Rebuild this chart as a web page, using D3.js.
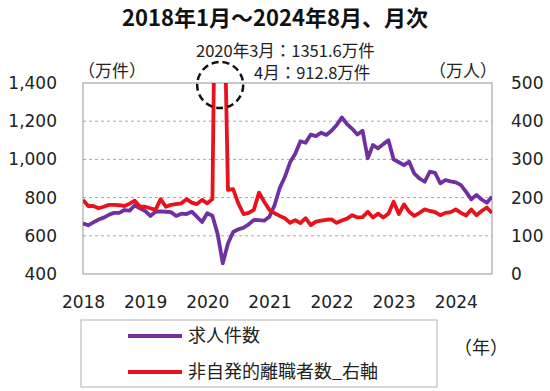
<!DOCTYPE html>
<html>
<head>
<meta charset="utf-8">
<script src="https://cdn.jsdelivr.net/npm/d3@7"></script>
<style>
  body { margin: 0; background: #fff; }
  text { font-family: "Noto Sans CJK JP", "DejaVu Sans", sans-serif; }
  .num { font-family: "DejaVu Sans", sans-serif; }
</style>
</head>
<body>
<div id="chart"></div>
<script>
// year labels on the x axis (one per January)
const years = ["2018", "2019", "2020", "2021", "2022", "2023", "2024"];

// 求人件数 (万件), monthly Jan 2018 - Aug 2024
const openings = [
  665, 655, 670, 685, 695, 710, 720, 720, 735, 732, 760, 744,
  730, 704, 726, 728, 726, 724, 704, 716, 714, 726, 700, 672,
  718, 705, 610, 456, 560, 620, 634, 642, 660, 683, 682, 679,
  700, 760, 850, 909, 985, 1030, 1095, 1087, 1130, 1122, 1140, 1128,
  1150, 1180, 1220, 1185, 1160, 1130, 1150, 1006, 1075, 1058, 1080, 1100,
  1000, 985, 970, 988, 925, 900, 883, 936, 930, 875, 892, 885,
  880, 865, 830, 791, 814, 790, 773, 805
];

// 非自発的離職者数 (万人, right axis)
const layoffs = [
  194, 178, 178, 172, 176, 181, 181, 180, 178, 184, 192, 176,
  176, 172, 168, 196, 176, 181, 183, 185, 196, 187, 183, 194,
  185, 196, 1351.6, 912.8, 220, 222, 185, 157, 160, 168, 213, 189,
  168, 159, 152, 146, 134, 141, 133, 146, 128, 137, 140, 142,
  143, 134, 140, 145, 154, 148, 149, 163, 148, 158, 148, 158,
  189, 157, 182, 163, 152, 160, 169, 165, 162, 154, 160, 162,
  169, 160, 153, 169, 154, 165, 174, 160
];

const leftTicks = [400, 600, 800, 1000, 1200, 1400];
const rightTicks = [0, 100, 200, 300, 400, 500];

const series = [
  { name: "求人件数", values: openings, axis: "left", color: "#7030a0" },
  { name: "非自発的離職者数_右軸", values: layoffs, axis: "right", color: "#e8121c" }
];

const width = 550;
const height = 391;
const plot = { left: 83, right: 492, top: 83, bottom: 274 };

const svg = d3.select("#chart")
  .append("svg")
  .attr("width", width)
  .attr("height", height);

const xScale = d3.scaleLinear()
  .domain([0, openings.length - 1])
  .range([plot.left, plot.right]);

const yLeft = d3.scaleLinear()
  .domain([400, 1400])
  .range([plot.bottom, plot.top]);

const yRight = d3.scaleLinear()
  .domain([0, 500])
  .range([plot.bottom, plot.top]);

// title
svg.append("text")
  .attr("x", width / 2)
  .attr("y", 26)
  .attr("text-anchor", "middle")
  .style("font-size", "22px")
  .style("font-weight", "bold")
  .attr("fill", "#111")
  .text("2018年1月～2024年8月、月次");

// dashed grid lines
svg.append("g")
  .selectAll("line")
  .data(leftTicks.slice(1, -1))
  .join("line")
    .attr("x1", plot.left)
    .attr("x2", plot.right)
    .attr("y1", d => yLeft(d))
    .attr("y2", d => yLeft(d))
    .attr("stroke", "#a6a6a6")
    .attr("stroke-width", 1)
    .attr("stroke-dasharray", "3,3");

// plot border
svg.append("rect")
  .attr("x", plot.left)
  .attr("y", plot.top)
  .attr("width", plot.right - plot.left)
  .attr("height", plot.bottom - plot.top)
  .attr("fill", "none")
  .attr("stroke", "#a6a6a6")
  .attr("stroke-width", 1.2);

// axes
const leftAxis = d3.axisLeft(yLeft)
  .tickValues(leftTicks)
  .tickFormat(d3.format(","))
  .tickSize(0)
  .tickPadding(26);

const rightAxis = d3.axisRight(yRight)
  .tickValues(rightTicks)
  .tickSize(0)
  .tickPadding(19);

const bottomAxis = d3.axisBottom(xScale)
  .tickValues(years.map((y, i) => i * 12))
  .tickFormat((d, i) => years[i])
  .tickSize(0)
  .tickPadding(22);

[
  svg.append("g").attr("transform", `translate(${plot.left},0)`).call(leftAxis),
  svg.append("g").attr("transform", `translate(${plot.right},0)`).call(rightAxis),
  svg.append("g").attr("transform", `translate(0,${plot.bottom})`).call(bottomAxis)
].forEach(g => {
  g.select(".domain").remove();
  g.selectAll("text")
    .attr("class", "num")
    .attr("fill", "#222")
    .style("font-size", "17px");
});

// unit labels
svg.append("text")
  .attr("x", 78)
  .attr("y", 77)
  .style("font-size", "17px")
  .attr("fill", "#222")
  .text("（万件）");

svg.append("text")
  .attr("x", 497)
  .attr("y", 77)
  .attr("text-anchor", "end")
  .style("font-size", "17px")
  .attr("fill", "#222")
  .text("（万人）");

// lines, clipped to plot area
svg.append("clipPath")
  .attr("id", "plot-clip")
  .append("rect")
    .attr("x", plot.left)
    .attr("y", plot.top)
    .attr("width", plot.right - plot.left)
    .attr("height", plot.bottom - plot.top);

const lineGroup = svg.append("g").attr("clip-path", "url(#plot-clip)");

series.forEach(s => {
  const yScale = s.axis === "left" ? yLeft : yRight;
  const lineGenerator = d3.line()
    .x((d, i) => xScale(i))
    .y(d => yScale(d));

  lineGroup.append("path")
    .datum(s.values)
    .attr("d", lineGenerator)
    .attr("fill", "none")
    .attr("stroke", s.color)
    .attr("stroke-width", 3.8)
    .attr("stroke-linejoin", "round");
});

// annotation for the 2020 spike
const spikeX = xScale(26.5);
svg.append("ellipse")
  .attr("cx", spikeX)
  .attr("cy", plot.top + 2)
  .attr("rx", 23)
  .attr("ry", 23)
  .attr("fill", "none")
  .attr("stroke", "#111")
  .attr("stroke-width", 2.5)
  .attr("stroke-dasharray", "7,4");

svg.append("text")
  .attr("x", 196)
  .attr("y", 57)
  .style("font-size", "16.5px")
  .attr("fill", "#222")
  .text(`2020年3月：${layoffs[26]}万件`);

svg.append("text")
  .attr("x", 254)
  .attr("y", 79)
  .style("font-size", "16.5px")
  .attr("fill", "#222")
  .text(`4月：${layoffs[27]}万件`);

// legend
svg.append("rect")
  .attr("x", 81)
  .attr("y", 320)
  .attr("width", 356)
  .attr("height", 67)
  .attr("fill", "#fff")
  .attr("stroke", "#b3b3b3")
  .attr("stroke-width", 1);

series.forEach((s, i) => {
  const ly = 336 + i * 36;
  svg.append("line")
    .attr("x1", 128)
    .attr("x2", 182)
    .attr("y1", ly)
    .attr("y2", ly)
    .attr("stroke", s.color)
    .attr("stroke-width", 3.8);
  svg.append("text")
    .attr("x", 188)
    .attr("y", ly + 6)
    .style("font-size", "18px")
    .attr("fill", "#222")
    .text(s.name);
});

svg.append("text")
  .attr("x", 481)
  .attr("y", 354)
  .attr("text-anchor", "middle")
  .style("font-size", "18px")
  .attr("fill", "#222")
  .text("（年）");
</script>
</body>
</html>
